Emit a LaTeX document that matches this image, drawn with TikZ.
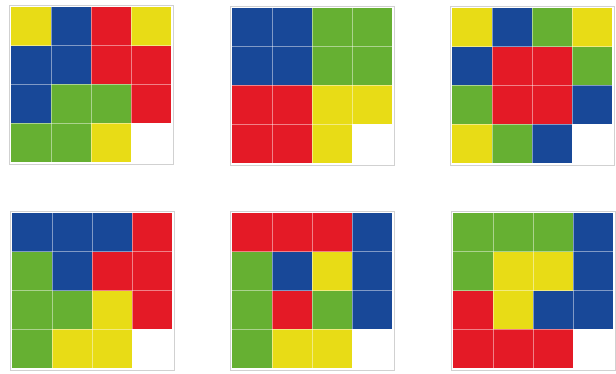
\documentclass[tikz,border=0pt]{standalone}
\definecolor{cY}{RGB}{232,220,22}
\definecolor{cB}{RGB}{24,72,152}
\definecolor{cR}{RGB}{228,26,38}
\definecolor{cG}{RGB}{102,176,50}
\definecolor{cW}{RGB}{255,255,255}
\tikzset{
  cellline/.style={draw=white,draw opacity=0.45,line width=0.7pt},
  frame/.style={draw=black!18,line width=0.7pt}
}
\newcommand{\mygrid}[3]{%
  \begin{scope}[shift={(#1,#2)}]
    \draw[frame] (-2,-2) rectangle (162,157);
    \foreach \c [count=\i from 0] in {#3} {
      \pgfmathtruncatemacro\col{mod(\i,4)}
      \pgfmathtruncatemacro\row{div(\i,4)}
      \fill[\c] (\col*40,\row*38.75) rectangle ++(40,38.75);
    }
    \foreach \k in {1,2,3} {
      \draw[cellline] (\k*40,0) -- (\k*40,155);
      \draw[cellline] (0,\k*38.75) -- (160,\k*38.75);
    }
  \end{scope}}
\begin{document}
\begin{tikzpicture}[x=1pt,y=-1pt]
\useasboundingbox[fill=white] (0,0) rectangle (616,374);
\mygrid{11}{7}{cY,cB,cR,cY, cB,cB,cR,cR, cB,cG,cG,cR, cG,cG,cY,cW}
\mygrid{232}{8}{cB,cB,cG,cG, cB,cB,cG,cG, cR,cR,cY,cY, cR,cR,cY,cW}
\mygrid{452}{8}{cY,cB,cG,cY, cB,cR,cR,cG, cG,cR,cR,cB, cY,cG,cB,cW}
\mygrid{12}{213}{cB,cB,cB,cR, cG,cB,cR,cR, cG,cG,cY,cR, cG,cY,cY,cW}
\mygrid{232}{213}{cR,cR,cR,cB, cG,cB,cY,cB, cG,cR,cG,cB, cG,cY,cY,cW}
\mygrid{453}{213}{cG,cG,cG,cB, cG,cY,cY,cB, cR,cY,cB,cB, cR,cR,cR,cW}
\end{tikzpicture}
\end{document}
